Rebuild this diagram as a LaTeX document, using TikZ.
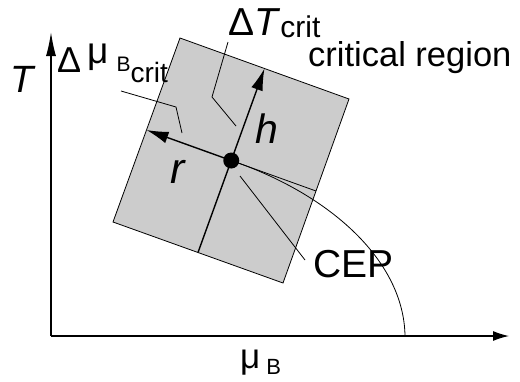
\documentclass[tikz,border=0pt]{standalone}
\usepackage{fontspec}
\setmainfont{Liberation Sans}
\usetikzlibrary{arrows.meta}
\newcommand{\fsz}[1]{\fontsize{#1}{#1}\selectfont}
\begin{document}
\begin{tikzpicture}[x=1pt,y=-1pt,
  lbl/.style={inner sep=0pt,anchor=base west},
  axisline/.style={line width=1.3pt},
  axisarrow/.style={-{Latex[length=16pt,width=10pt]}},
  cross/.style={line width=1.4pt},
  crossarrow/.style={cross,-{Latex[length=22pt,width=12pt]}},
  thin line/.style={line width=0.8pt},
  region/.style={thin line,fill=black!20}]
\useasboundingbox (0,0) rectangle (520,381);
% square corners
\coordinate (tl) at (180,38);
\coordinate (tr) at (349,99);
\coordinate (br) at (283,283);
\coordinate (bl) at (113,222);
\coordinate (c) at (231.25,160.5);
\coordinate (mt) at (264.5,68.5);
\coordinate (mb) at (198,252.5);
\coordinate (ml) at (146.5,130);
\coordinate (mr) at (316,191);
% axes
\coordinate (o) at (51,336);
\coordinate (ytip) at (51,32);
\coordinate (xtip) at (509,336);
\coordinate (xend) at (405,336);
\draw[region] (tl) -- (tr) -- (br) -- (bl) -- cycle;
\draw[axisline,-{Latex[length=24pt,width=10pt]}] (o) -- (ytip);
\draw[axisline,axisarrow] (o) -- (xtip);
% cross lines
\draw[crossarrow] (c) -- (mt);
\draw[crossarrow] (c) -- (ml);
\draw[cross] (c) -- (mb);
\draw[thin line] (c) -- (mr);
% phase line
\draw[thin line] (c) .. controls (332,195) and (404,262) .. (xend);
\fill (c) circle[radius=8pt];
% leader lines
\coordinate (la1) at (121,91);
\coordinate (la2) at (176,107);
\coordinate (la3) at (182,133);
\draw[thin line] (la1) -- (la2) -- (la3);
\coordinate (lb1) at (228,42);
\coordinate (lb2) at (212,97);
\coordinate (lb3) at (236,126);
\draw[thin line] (lb1) -- (lb2) -- (lb3);
\coordinate (lc1) at (240,176);
\coordinate (lc2) at (305,260);
\draw[thin line] (lc1) -- (lc2);
% labels
\node[lbl] (tlabel) at (10,92) {\fsz{38}\textit{T}};
\node[lbl] (dT) at (228,35) {\fsz{39}Δ\textit{T}\fsz{30}\raisebox{-2pt}{crit}};
\node[lbl] (crit) at (308,66) {\fsz{34.5}critical region};
\node[lbl] (h) at (255,143) {\fsz{41}\textit{h}};
\node[lbl] (r) at (170,183) {\fsz{43}\textit{r}};
\node[lbl] (cep) at (313,277) {\fsz{39}CEP};
\node[lbl] (dmu) at (57,72) {\fsz{36}Δ\hspace{6pt}{\fsz{37}\raisebox{9pt}{μ}}\hspace{8pt}{\fsz{21}\raisebox{1pt}{B}}{\fsz{28}\raisebox{-10pt}{crit}}};
\node[lbl] (mub) at (240,368) {\fsz{35}μ\hspace{6pt}{\fsz{22}\raisebox{-6pt}{B}}};
\end{tikzpicture}
\end{document}
